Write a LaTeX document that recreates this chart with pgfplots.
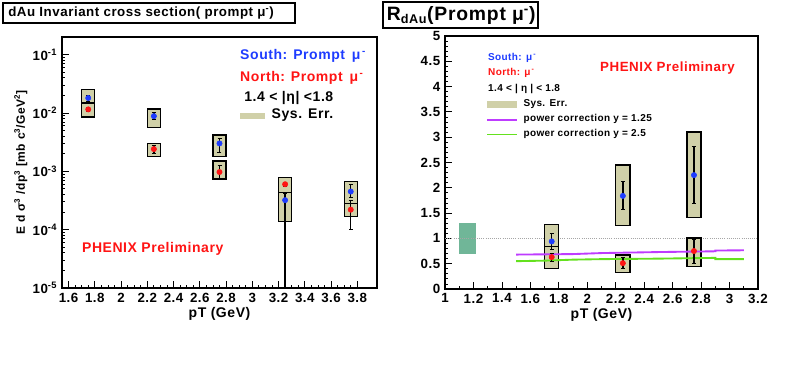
\documentclass[border=0pt]{standalone}
\usepackage{pgfplots}
\pgfplotsset{compat=1.18}
\usepackage{fontspec}
\setmainfont{Liberation Sans}
\newfontfamily\rootfont{Liberation Sans Bold}[LetterSpace=4]

\definecolor{sysfill}{RGB}{208,208,168}
\definecolor{southblue}{RGB}{30,60,255}
\definecolor{northred}{RGB}{255,20,20}
\definecolor{globfill}{RGB}{112,182,152}
\definecolor{pcmag}{RGB}{190,60,255}
\definecolor{pcgreen}{RGB}{100,225,30}

\newcommand{\rf}[1]{\rootfont\fontsize{#1}{#1}\selectfont}

\pgfplotsset{
  rootstyle/.style={
    scale only axis,
    anchor=south west,
    axis line style={line width=0.9pt},
    tick align=inside,
    xtick pos=lower, ytick pos=left,
    major tick length=5pt, minor tick length=2.5pt,
    every tick/.style={black, line width=0.6pt},
    ticklabel style={font=\rf{10}},
    /pgf/number format/assume math mode=true,
    xlabel style={font=\rf{10.5}, yshift=3pt},
    ylabel style={font=\rf{9}},
    clip=true,
  },
  sysbox/.style={fill=sysfill, draw=black, line width=1pt},
  errpts/.style={only marks, mark=*, mark size=2pt,
    error bars/y dir=both, error bars/y explicit,
    error bars/error bar style={black, line width=1pt},
    error bars/error mark options={rotate=90, mark size=1.5pt, black, line width=0.7pt}},
}
\newcommand{\sysbox}[4]{\addplot[sysbox] coordinates {(#1,#3) (#2,#3) (#2,#4) (#1,#4)} --cycle;}

% left: invariant cross section
\pgfplotstableread{
x     y        ep       em
1.75  0.0180   0.0020   0.0020
2.25  0.0088   0.0012   0.0012
2.75  0.0030   0.0007   0.0009
3.25  0.00032  0.00010  0.000315
3.75  0.00045  0.00015  0.00010
}\southcs
\pgfplotstableread{
x     y        ep       em
1.75  0.0115   0.0010   0.0010
2.25  0.0024   0.0004   0.0004
2.75  0.00097  0.0003   0.00025
3.25  0.00060  0.00005  0.00005
3.75  0.00022  0.00010  0.00012
}\northcs
% right: RdAu
\pgfplotstableread{
x     y     ep    em
1.75  0.94  0.15  0.15
2.25  1.84  0.28  0.26
2.75  2.25  0.56  0.56
}\southr
\pgfplotstableread{
x     y     ep    em
1.75  0.63  0.07  0.08
2.25  0.51  0.11  0.11
2.75  0.75  0.23  0.25
}\northr

\begin{document}
\begin{tikzpicture}
\path[use as bounding box] (0pt,0pt) rectangle (600.75pt,291pt);

% titles
\draw[line width=0.9pt] (2.25pt,273.75pt) rectangle (221.25pt,288.75pt);
\node[anchor=west, inner sep=0pt, font=\rf{10}] at (6pt,281.25pt) {dAu Invariant cross section( prompt μ\textsuperscript{-})};
\draw[line width=0.9pt] (287.25pt,270pt) rectangle (403.5pt,289.5pt);
\node[anchor=west, inner sep=0pt, font=\rf{14.5}] at (290pt,279.5pt) {R\textsubscript{\fontsize{9.5}{10}\selectfont dAu}(Prompt μ\textsuperscript{-})};

\begin{axis}[rootstyle,
  at={(46.5pt,75pt)}, width=236.25pt, height=188.25pt,
  ymode=log, xmin=1.55, xmax=3.95, ymin=1e-5, ymax=0.2,
  xtick={1.6,1.8,...,3.81}, minor x tick num=3,
  xticklabels={1.6,1.8,2,2.2,2.4,2.6,2.8,3,3.2,3.4,3.6,3.8},
  ytick={1e-5,1e-4,1e-3,1e-2,1e-1},
  yticklabels={10\textsuperscript{-5},10\textsuperscript{-4},10\textsuperscript{-3},10\textsuperscript{-2},10\textsuperscript{-1}},
  xlabel={pT (GeV)},
  ylabel={E d σ\textsuperscript{3} /dp\textsuperscript{3} [mb c\textsuperscript{3}/GeV\textsuperscript{2}]},
  ylabel style={yshift=-3pt},
]
  \sysbox{1.70}{1.80}{0.0148}{0.025}
  \sysbox{1.70}{1.80}{0.0085}{0.0148}
  \sysbox{2.20}{2.30}{0.0057}{0.0117}
  \sysbox{2.20}{2.30}{0.0018}{0.0030}
  \sysbox{2.70}{2.80}{0.0018}{0.0042}
  \sysbox{2.70}{2.80}{0.00074}{0.0015}
  \sysbox{3.20}{3.30}{0.000137}{0.00043}
  \sysbox{3.20}{3.30}{0.00043}{0.00079}
  \sysbox{3.70}{3.80}{0.00028}{0.00067}
  \sysbox{3.70}{3.80}{0.000167}{0.00028}
  \addplot[errpts, color=southblue] table[x=x, y=y, y error plus=ep, y error minus=em] {\southcs};
  \addplot[errpts, color=northred] table[x=x, y=y, y error plus=ep, y error minus=em] {\northcs};

  \node[anchor=west, inner sep=0pt, southblue, font=\rf{10.5}] at (axis description cs:0.565,0.924) {South: Prompt\, μ\textsuperscript{\,-}};
  \node[anchor=west, inner sep=0pt, northred, font=\rf{10.5}] at (axis description cs:0.565,0.837) {North: Prompt\, μ\textsuperscript{\,-}};
  \node[anchor=west, inner sep=0pt, font=\rf{10.5}] at (axis description cs:0.578,0.757) {1.4 < |η| <1.8};
  \fill[sysfill] (axis description cs:0.565,0.672) rectangle (axis description cs:0.645,0.697);
  \node[anchor=west, inner sep=0pt, font=\rf{10.5}] at (axis description cs:0.665,0.688) {Sys. Err.};
  \node[anchor=west, inner sep=0pt, northred, font=\rf{10.5}] at (axis description cs:0.063,0.155) {PHENIX Preliminary};
\end{axis}

\begin{axis}[rootstyle,
  at={(333.75pt,74.25pt)}, width=234.75pt, height=189.75pt,
  xmin=1, xmax=3.2, ymin=0, ymax=5,
  xtick={1,1.2,...,3.21}, minor x tick num=1,
  xticklabels={1,1.2,1.4,1.6,1.8,2,2.2,2.4,2.6,2.8,3,3.2},
  ytick={0,0.5,...,5.01}, minor y tick num=4,
  yticklabels={0,0.5,1,1.5,2,2.5,3,3.5,4,4.5,5},
  xlabel={pT (GeV)},
]
  \addplot[globfill, fill=globfill, draw=none] coordinates {(1.1,0.7) (1.215,0.7) (1.215,1.3) (1.1,1.3)} --cycle;
  \addplot[gray!70, densely dotted, line width=0.6pt] coordinates {(1,1) (3.2,1)};
  \sysbox{1.70}{1.80}{0.84}{1.28}
  \sysbox{1.70}{1.80}{0.40}{0.84}
  \sysbox{2.20}{2.30}{1.25}{2.45}
  \sysbox{2.20}{2.30}{0.33}{0.67}
  \sysbox{2.70}{2.80}{1.41}{3.10}
  \sysbox{2.70}{2.80}{0.45}{1.01}
  \addplot[pcmag, line width=1.4pt] coordinates {(1.5,0.68) (1.9,0.69) (2.1,0.71) (2.5,0.73) (2.9,0.745) (2.9,0.76) (3.1,0.765)};
  \addplot[pcgreen, line width=1.4pt] coordinates {(1.5,0.55) (1.7,0.56) (1.9,0.58) (2.1,0.59) (2.5,0.60) (2.9,0.615) (2.9,0.59) (3.1,0.59)};
  \addplot[errpts, color=southblue] table[x=x, y=y, y error plus=ep, y error minus=em] {\southr};
  \addplot[errpts, color=northred] table[x=x, y=y, y error plus=ep, y error minus=em] {\northr};

  \node[anchor=west, inner sep=0pt, southblue, font=\rf{7.5}] at (axis description cs:0.137,0.913) {South: μ\textsuperscript{\,-}};
  \node[anchor=west, inner sep=0pt, northred, font=\rf{7.5}] at (axis description cs:0.137,0.854) {North: μ\textsuperscript{\,-}};
  \node[anchor=west, inner sep=0pt, font=\rf{7.5}] at (axis description cs:0.137,0.792) {1.4 < | η | < 1.8};
  \fill[sysfill] (axis description cs:0.135,0.715) rectangle (axis description cs:0.23,0.742);
  \node[anchor=west, inner sep=0pt, font=\rf{7.5}] at (axis description cs:0.25,0.73) {Sys. Err.};
  \draw[pcmag, line width=0.8pt] (axis description cs:0.135,0.668) -- (axis description cs:0.23,0.668);
  \node[anchor=west, inner sep=0pt, font=\rf{7.5}] at (axis description cs:0.25,0.671) {power correction y = 1.25};
  \draw[pcgreen, line width=0.8pt] (axis description cs:0.135,0.609) -- (axis description cs:0.23,0.609);
  \node[anchor=west, inner sep=0pt, font=\rf{7.5}] at (axis description cs:0.25,0.612) {power correction y = 2.5};
  \node[anchor=west, inner sep=0pt, northred, font=\rf{10}] at (axis description cs:0.495,0.874) {PHENIX Preliminary};
\end{axis}
\end{tikzpicture}
\end{document}
